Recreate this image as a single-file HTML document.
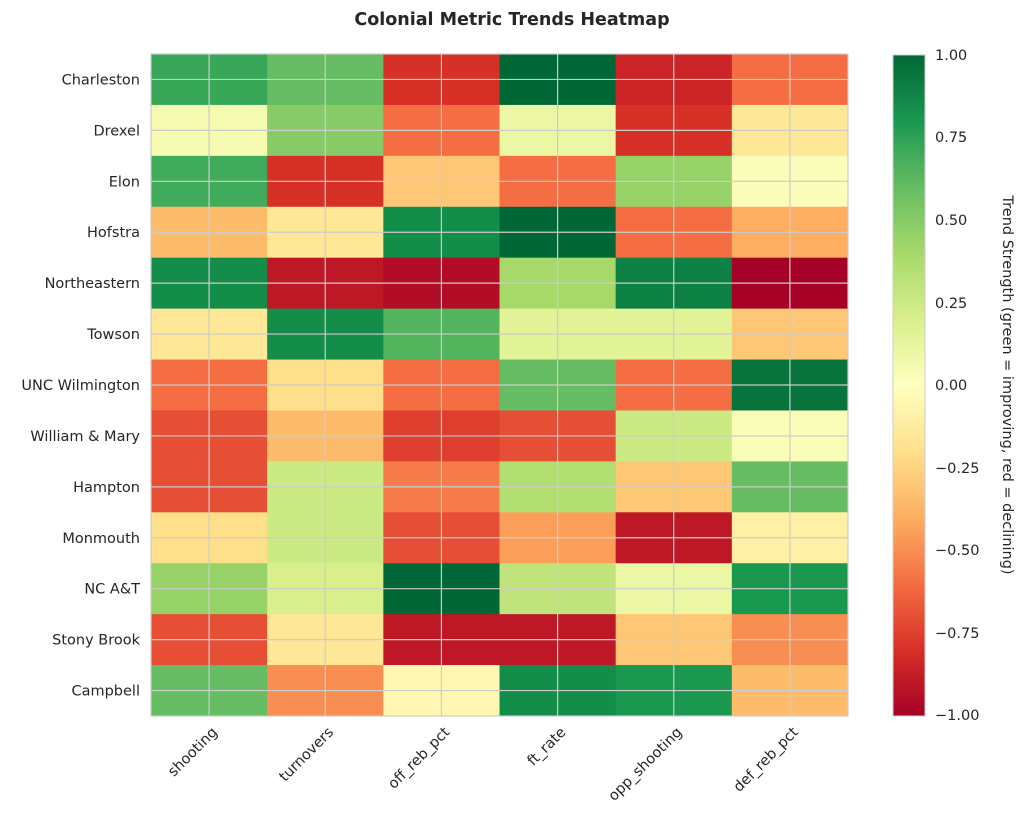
<!DOCTYPE html>
<html><head><meta charset="utf-8"><style>
body{margin:0;background:#fff;width:1024px;height:823px;overflow:hidden}
svg text{font-family:"DejaVu Sans","Liberation Sans",sans-serif;fill:#262626}
</style></head><body>
<svg id="s" width="1024" height="823" xmlns="http://www.w3.org/2000/svg">
<defs><linearGradient id="cb" x1="0" y1="1" x2="0" y2="0">
<stop offset="0" stop-color="#a50026"/><stop offset="0.1" stop-color="#d73027"/><stop offset="0.2" stop-color="#f46d43"/><stop offset="0.3" stop-color="#fdae61"/><stop offset="0.4" stop-color="#fee08b"/><stop offset="0.5" stop-color="#ffffbf"/><stop offset="0.6" stop-color="#d9ef8b"/><stop offset="0.7" stop-color="#a6d96a"/><stop offset="0.8" stop-color="#66bd63"/><stop offset="0.9" stop-color="#1a9850"/><stop offset="1" stop-color="#006837"/>
</linearGradient></defs>
<text x="512" y="25" text-anchor="middle" font-size="17.5" font-weight="bold">Colonial Metric Trends Heatmap</text>
<g id="g"></g>
<rect x="893" y="55" width="32" height="661" fill="url(#cb)" stroke="#ccc" stroke-width="1"/>
<g font-size="14.5">
<text x="935" y="60">1.00</text><text x="935" y="142">0.75</text><text x="935" y="225">0.50</text><text x="935" y="308">0.25</text><text x="935" y="390">0.00</text><text x="935" y="473">−0.25</text><text x="935" y="555">−0.50</text><text x="935" y="638">−0.75</text><text x="935" y="720">−1.00</text>
</g>
<text transform="translate(1003,385) rotate(90)" text-anchor="middle" font-size="14.5">Trend Strength (green = improving, red = declining)</text>
</svg>
<script>
var stops=["#a50026","#d73027","#f46d43","#fdae61","#fee08b","#ffffbf","#d9ef8b","#a6d96a","#66bd63","#1a9850","#006837"];
function h(c){return [1,3,5].map(i=>parseInt(c.substr(i,2),16));}
function col(v){var t=(v+1)/2*10;if(t>=10)return stops[10];var i=Math.floor(t),f=t-i,a=h(stops[i]),b=h(stops[i+1]);
return "rgb("+a.map((x,k)=>Math.round(x+(b[k]-x)*f)).join(",")+")";}
var rows=["Charleston","Drexel","Elon","Hofstra","Northeastern","Towson","UNC Wilmington","William & Mary","Hampton","Monmouth","NC A&T","Stony Brook","Campbell"];
var cols=["shooting","turnovers","off_reb_pct","ft_rate","opp_shooting","def_reb_pct"];
var d=[[0.72,0.6,-0.8,1.0,-0.85,-0.6],[0.05,0.5,-0.6,0.1,-0.8,-0.15],[0.7,-0.8,-0.3,-0.6,0.45,0.02],[-0.35,-0.15,0.85,1.0,-0.6,-0.4],[0.85,-0.9,-0.95,0.4,0.9,-1.0],[-0.15,0.85,0.65,0.15,0.15,-0.3],[-0.6,-0.2,-0.6,0.6,-0.6,0.95],[-0.7,-0.35,-0.75,-0.7,0.25,0.03],[-0.7,0.25,-0.55,0.35,-0.3,0.6],[-0.2,0.25,-0.7,-0.45,-0.9,-0.1],[0.45,0.2,1.0,0.3,0.1,0.8],[-0.7,-0.15,-0.9,-0.9,-0.3,-0.5],[0.6,-0.5,-0.05,0.85,0.8,-0.35]];
var X0=151,Y0=54,W=(848-151)/6,H=(716-54)/13,s="";
d.forEach((r,i)=>r.forEach((v,j)=>{s+='<rect x="'+(X0+j*W)+'" y="'+(Y0+i*H)+'" width="'+(W+0.5)+'" height="'+(H+0.5)+'" fill="'+col(v)+'"/>';}));
for(var j=0;j<6;j++){var x=X0+(j+0.5)*W;s+='<line x1="'+x+'" y1="'+Y0+'" x2="'+x+'" y2="716" stroke="#ccc" stroke-width="1.2"/>';
s+='<text transform="translate('+(x+9)+',733) rotate(-45)" text-anchor="end" font-size="14.5">'+cols[j]+'</text>';}
rows.forEach((n,i)=>{var y=Y0+(i+0.5)*H;s+='<line x1="'+X0+'" y1="'+y+'" x2="848" y2="'+y+'" stroke="#ccc" stroke-width="1.2"/>';
s+='<text x="140" y="'+(y+5)+'" text-anchor="end" font-size="14.5">'+n.replace("&","&amp;")+'</text>';});
s+='<rect x="'+X0+'" y="'+Y0+'" width="697" height="662" fill="none" stroke="#ccc" stroke-width="1.2"/>';
document.getElementById("g").innerHTML=s;
</script>
</body></html>
